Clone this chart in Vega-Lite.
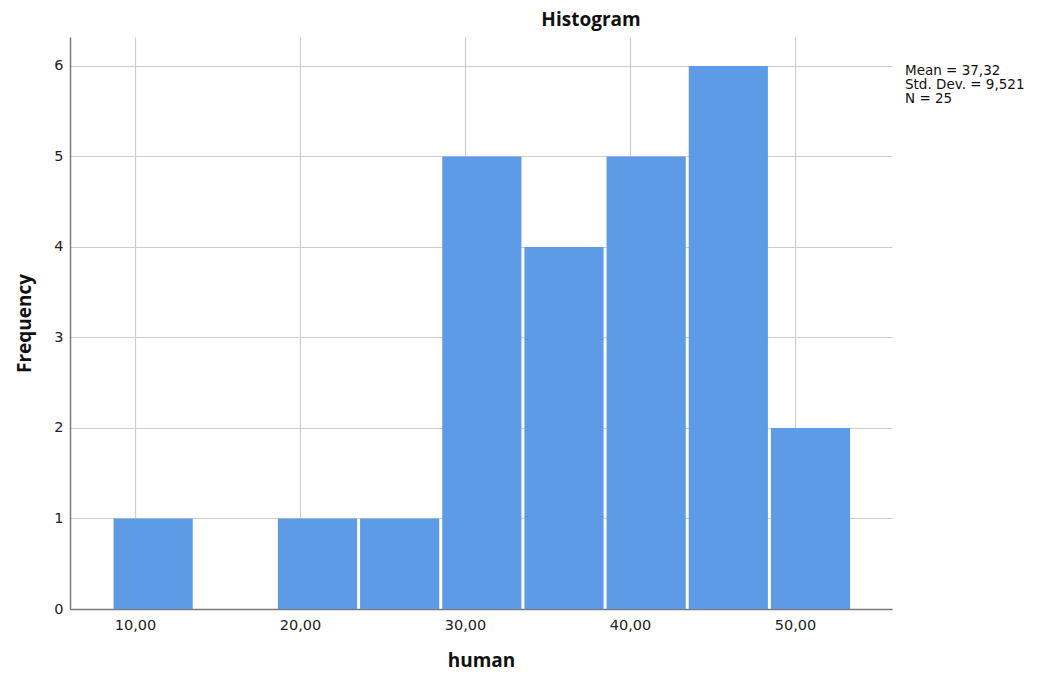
{
  "$schema": "https://vega.github.io/schema/vega-lite/v6.json",
  "autosize": "none",
  "width": 822,
  "height": 572,
  "padding": {"left": 70, "top": 37, "right": 151, "bottom": 72},
  "background": "white",
  "title": {
    "text": "Histogram",
    "font": "Open Sans",
    "fontSize": 19,
    "fontWeight": "bold",
    "color": "#111111",
    "anchor": "middle",
    "dx": 110,
    "offset": 7
  },
  "datasets": {
    "bins": [
      {"bin_start": 8.58, "bin_end": 13.56, "count": 1},
      {"bin_start": 18.54, "bin_end": 23.52, "count": 1},
      {"bin_start": 23.52, "bin_end": 28.5, "count": 1},
      {"bin_start": 28.5, "bin_end": 33.48, "count": 5},
      {"bin_start": 33.48, "bin_end": 38.46, "count": 4},
      {"bin_start": 38.46, "bin_end": 43.44, "count": 5},
      {"bin_start": 43.44, "bin_end": 48.42, "count": 6},
      {"bin_start": 48.42, "bin_end": 53.4, "count": 2}
    ],
    "stats": [
      {"x": 55.88, "y": 6, "label": "Mean = 37,32\nStd. Dev. = 9,521\nN = 25"}
    ]
  },
  "layer": [
    {
      "data": {"name": "bins"},
      "mark": {"type": "bar", "color": "#5e9be6", "binSpacing": 3},
      "encoding": {
        "x": {
          "field": "bin_start",
          "bin": "binned",
          "type": "quantitative",
          "scale": {"domain": [6.06, 55.88], "nice": false, "zero": false},
          "axis": {
            "title": "human",
            "values": [10, 20, 30, 40, 50],
            "format": ".2f",
            "labelExpr": "replace(datum.label, '.', ',')",
            "grid": true,
            "ticks": false,
            "labelPadding": 9,
            "titlePadding": 20
          }
        },
        "x2": {"field": "bin_end"},
        "y": {
          "field": "count",
          "type": "quantitative",
          "scale": {"domain": [0, 6.32], "nice": false},
          "axis": {
            "title": "Frequency",
            "values": [0, 1, 2, 3, 4, 5, 6],
            "format": "d",
            "grid": true,
            "ticks": false,
            "labelPadding": 7,
            "titlePadding": 19
          }
        }
      }
    },
    {
      "data": {"name": "stats"},
      "mark": {
        "type": "text",
        "align": "left",
        "baseline": "top",
        "dx": 13,
        "dy": -2,
        "lineBreak": "\n",
        "lineHeight": 14,
        "font": "DejaVu Sans",
        "fontSize": 13.5,
        "color": "#111111",
        "clip": false
      },
      "encoding": {
        "x": {"field": "x", "type": "quantitative"},
        "y": {"field": "y", "type": "quantitative"},
        "text": {"field": "label"}
      }
    }
  ],
  "config": {
    "view": {"stroke": null},
    "axis": {
      "domainColor": "#7a7a7a",
      "domainWidth": 1.5,
      "gridColor": "#cdcdcd",
      "gridWidth": 1.2,
      "labelFont": "DejaVu Sans",
      "labelFontSize": 14.5,
      "labelColor": "#222222",
      "titleFont": "Open Sans",
      "titleFontSize": 19,
      "titleFontWeight": "bold",
      "titleColor": "#111111"
    }
  }
}
